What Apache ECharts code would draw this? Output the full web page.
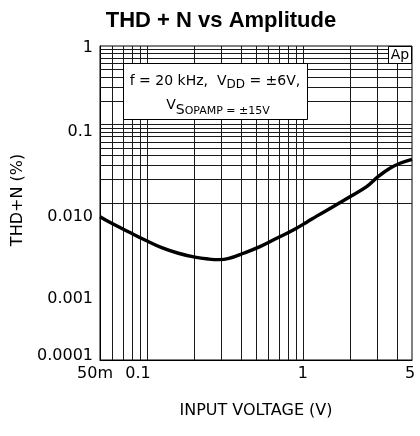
<!DOCTYPE html>
<html>
<head>
<meta charset="utf-8">
<script src="https://cdn.jsdelivr.net/npm/echarts@6/dist/echarts.min.js"></script>
<style>html,body{margin:0;padding:0;background:#fff;}#c{width:420px;height:436px;}</style>
</head>
<body>
<div id="c"></div>
<script>
// ---- data ----
var inputVoltage = [0.05, 0.0594, 0.076, 0.0971, 0.1243, 0.159, 0.203, 0.25, 0.29, 0.335, 0.415, 0.53, 0.679, 0.867, 1.057, 1.224, 1.558, 2.0, 2.56, 3.03, 3.61, 4.19, 5.0];
var thdN = [0.00669, 0.00551, 0.00431, 0.00338, 0.0027, 0.00229, 0.00204, 0.00193, 0.0019, 0.00197, 0.00229, 0.00278, 0.00355, 0.00453, 0.0057, 0.0068, 0.00897, 0.01203, 0.01613, 0.02163, 0.02767, 0.03205, 0.036];
var xTickValues = [0.05, 0.1, 1, 5];
var xTickLabels = ['50m', '0.1', '1', '5'];
var yTickValues = [0.0001, 0.001, 0.01, 0.1, 1];
var yTickLabels = ['0.0001', '0.001', '0.010', '0.1', '1'];
var xGridValues = [0.06, 0.07, 0.08, 0.09, 0.1, 0.2, 0.3, 0.4, 0.5, 0.6, 0.7, 0.8, 0.9, 1, 2, 3, 4];
var yGridValues = [0.0002, 0.0003, 0.0004, 0.0005, 0.0006, 0.0007, 0.0008, 0.0009, 0.001,
                   0.002, 0.003, 0.004, 0.005, 0.006, 0.007, 0.008, 0.009, 0.01,
                   0.02, 0.03, 0.04, 0.05, 0.06, 0.07, 0.08, 0.09, 0.1,
                   0.2, 0.3, 0.4, 0.5, 0.6, 0.7, 0.8, 0.9];

// ---- label style keys (visual offsets only) ----
var xLabelStyleKey = ['l5', 'l9', 'n', 'l2'];
var yLabelStyleKey = ['u4', 'd16', 'd13', 'd6', 'd1'];

function pick(values, v) {
  for (var i = 0; i < values.length; i++) {
    if (Math.abs(Math.log10(v) - Math.log10(values[i])) < 1e-3) return i;
  }
  return -1;
}

var FONT = '"DejaVu Sans", sans-serif';
var chart = echarts.init(document.getElementById('c'), null, {renderer: 'canvas'});

var gridLineData = [];
xGridValues.forEach(function (v) { gridLineData.push({xAxis: v}); });
yGridValues.forEach(function (v) { gridLineData.push({yAxis: v}); });

var lineData = inputVoltage.map(function (v, i) { return [v, thdN[i]]; });

function lab(pad) { return {fontFamily: FONT, fontSize: 16, color: '#000', padding: pad}; }

var option = {
  animation: false,
  backgroundColor: '#fff',
  title: {
    text: 'THD + N vs Amplitude',
    left: 216, top: 5, textAlign: 'center',
    textStyle: {fontFamily: '"Liberation Sans", Arial, sans-serif', fontWeight: 'bold', fontSize: 22, color: '#000'}
  },
  grid: {left: 100, right: 8, top: 46, bottom: 76, show: true, borderColor: '#000', borderWidth: 1, backgroundColor: 'transparent'},
  xAxis: {
    type: 'log', logBase: 10, min: 0.05, max: 5,
    name: 'INPUT VOLTAGE (V)', nameLocation: 'middle', nameGap: 43,
    nameTextStyle: {fontFamily: FONT, fontSize: 16, color: '#000'},
    axisLine: {show: true, lineStyle: {color: '#000', width: 1}},
    axisTick: {show: false},
    splitLine: {show: false},
    minorTick: {show: false},
    axisLabel: {
      margin: 6, fontFamily: FONT, fontSize: 16, color: '#000',
      showMinLabel: true, showMaxLabel: true,
      formatter: function (v) {
        var i = pick(xTickValues, v);
        if (i < 0) return '';
        return '{' + xLabelStyleKey[i] + '|' + xTickLabels[i] + '}';
      },
      rich: {
        l5: lab([0, 10, 0, 0]),
        l9: lab([0, 18, 0, 0]),
        l2: lab([0, 4, 0, 0]),
        n: lab([0, 0, 0, 0])
      }
    }
  },
  yAxis: {
    type: 'log', logBase: 10, min: 0.0001, max: 1,
    name: 'THD+N (%)', nameLocation: 'middle', nameGap: 64, nameRotate: 90,
    nameTextStyle: {fontFamily: FONT, fontSize: 16, color: '#000', padding: [0, 0, 0, 6]},
    axisLine: {show: true, lineStyle: {color: '#000', width: 1}},
    axisTick: {show: false},
    splitLine: {show: false},
    axisLabel: {
      margin: 7, fontFamily: FONT, fontSize: 16, color: '#000',
      showMinLabel: true, showMaxLabel: true,
      formatter: function (v) {
        var i = pick(yTickValues, v);
        if (i < 0) return '';
        return '{' + yLabelStyleKey[i] + '|' + yTickLabels[i] + '}';
      },
      rich: {
        u4: lab([0, 0, 8, 0]),
        d16: lab([34, 0, 0, 0]),
        d13: lab([28, 0, 0, 0]),
        d6: lab([14, 0, 0, 0]),
        d1: lab([3, 0, 0, 0])
      }
    }
  },
  series: [
    {
      name: 'grid', type: 'line', data: [], z: 1, silent: true,
      markLine: {
        silent: true, symbol: ['none', 'none'], animation: false,
        label: {show: false},
        emphasis: {disabled: true},
        lineStyle: {type: 'solid', color: '#1a1a1a', width: 1},
        data: gridLineData
      }
    },
    {
      name: 'THD+N', type: 'line', data: lineData, z: 5,
      smooth: 0.4, showSymbol: false, symbol: 'none',
      lineStyle: {color: '#000', width: 3.4}
    }
  ],
  graphic: [
    {type: 'rect', z: 100, shape: {x: 123.5, y: 63.5, width: 184, height: 56}, style: {fill: '#fff', stroke: '#000', lineWidth: 1}},
    {type: 'text', z: 101, x: 215, y: 81, style: {
      text: '{m|f = 20 kHz,  V}{s|DD}{m| = ±6V,}',
      align: 'center', verticalAlign: 'middle',
      rich: {
        m: {fontFamily: FONT, fontSize: 14, color: '#000', lineHeight: 20, verticalAlign: 'middle'},
        s: {fontFamily: FONT, fontSize: 12, color: '#000', lineHeight: 10, verticalAlign: 'bottom'}
      }
    }},
    {type: 'text', z: 101, x: 218, y: 105, style: {
      text: '{m|V}{s|S}{t|OPAMP = ±15V}',
      align: 'center', verticalAlign: 'middle',
      rich: {
        m: {fontFamily: FONT, fontSize: 14, color: '#000', lineHeight: 24, verticalAlign: 'middle'},
        s: {fontFamily: FONT, fontSize: 14, color: '#000', lineHeight: 14, verticalAlign: 'bottom'},
        t: {fontFamily: FONT, fontSize: 11, color: '#000', lineHeight: 6, verticalAlign: 'bottom'}
      }
    }},
    {type: 'rect', z: 100, shape: {x: 388.5, y: 46.5, width: 23, height: 17}, style: {fill: '#fff', stroke: '#000', lineWidth: 1}},
    {type: 'text', z: 101, x: 400, y: 55, style: {text: 'Ap', align: 'center', verticalAlign: 'middle', fontFamily: FONT, fontSize: 14, fill: '#000'}}
  ]
};
chart.setOption(option);
</script>
</body>
</html>
